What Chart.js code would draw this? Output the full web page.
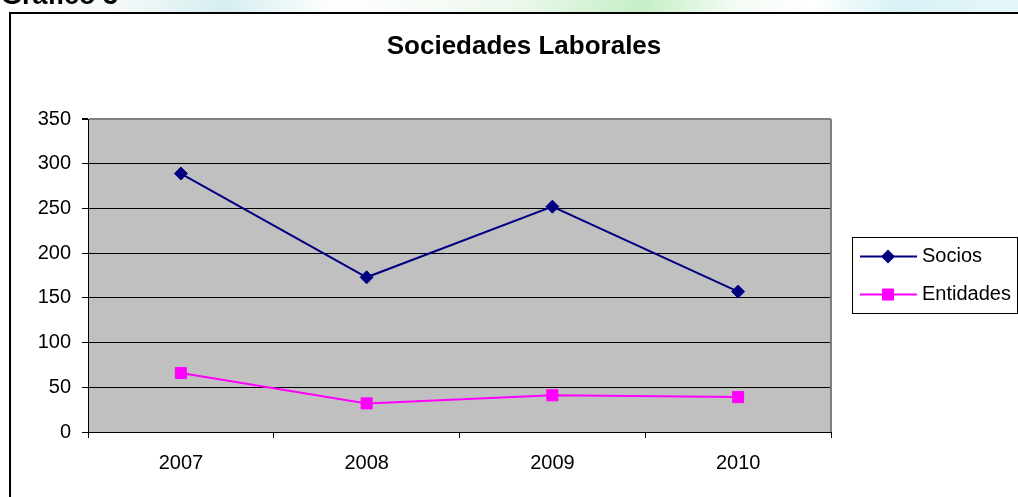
<!DOCTYPE html>
<html>
<head>
<meta charset="utf-8">
<title>Sociedades Laborales</title>
<script src="https://cdn.jsdelivr.net/npm/chart.js"></script>
<style>
  html, body { margin: 0; padding: 0; background: #fff; overflow: hidden; }
  #wrap { position: relative; width: 1018px; height: 497px; }
</style>
</head>
<body>
<div id="wrap"><canvas id="grafico"></canvas></div>
<script>
// datos
var anios = ["2007", "2008", "2009", "2010"];
var socios = [289, 173, 252, 157];
var entidades = [66, 32, 41, 39];
var ejeY = { min: 0, max: 350, paso: 50 };

var fuente = "'Liberation Sans', Arial, sans-serif";

// fondo, marco exterior, titulo y zona gris
var fondo = {
    id: "fondo",
    beforeDraw: function (chart) {
        var c = chart.ctx, a = chart.chartArea;
        c.save();
        // franja de arriba (marca de agua de la pagina)
        var g = c.createLinearGradient(0, 0, chart.width, 0);
        g.addColorStop(0, "#ffffff");
        g.addColorStop(0.12, "#f4f8f8");
        g.addColorStop(0.22, "#d6eef0");
        g.addColorStop(0.33, "#ffffff");
        g.addColorStop(0.5, "#eef8ee");
        g.addColorStop(0.63, "#c6efc6");
        g.addColorStop(0.72, "#f4fbf4");
        g.addColorStop(0.8, "#ffffff");
        g.addColorStop(0.88, "#d8f2f6");
        g.addColorStop(1, "#e6f6f8");
        c.fillStyle = g;
        c.fillRect(0, 0, chart.width, 12);
        c.fillStyle = "#000";
        c.font = "bold 27px " + fuente;
        c.textBaseline = "alphabetic";
        c.fillText("Gráfico 3", 1, 4);

        // marco del grafico
        c.strokeStyle = "#000";
        c.lineWidth = 2;
        c.strokeRect(10, 13, chart.width + 40, chart.height + 40);

        // titulo
        c.font = "bold 26px " + fuente;
        c.textAlign = "center";
        c.fillText("Sociedades Laborales", 524, 54);

        // area de trazado gris
        c.fillStyle = "#c0c0c0";
        c.fillRect(a.left, a.top, a.right - a.left, a.bottom - a.top);
        c.restore();
    },
    beforeDatasetsDraw: function (chart) {
        var c = chart.ctx, a = chart.chartArea;
        c.save();
        c.strokeStyle = "#808080";
        c.lineWidth = 2;
        c.beginPath();
        c.moveTo(a.right, a.top);
        c.lineTo(a.right, a.bottom);
        c.stroke();
        c.restore();
    }
};

// leyenda tipo Excel a la derecha
var leyenda = {
    id: "leyenda",
    afterDraw: function (chart) {
        var c = chart.ctx;
        c.save();
        c.fillStyle = "#fff";
        c.fillRect(852.5, 237.5, 165, 76);
        c.strokeStyle = "#000";
        c.lineWidth = 1;
        c.strokeRect(852.5, 237.5, 165, 76);
        var filas = [256.5, 294.5];
        chart.data.datasets.forEach(function (ds, i) {
            var y = filas[i];
            c.strokeStyle = ds.borderColor;
            c.lineWidth = 2;
            c.beginPath();
            c.moveTo(860, y);
            c.lineTo(917, y);
            c.stroke();
            c.fillStyle = ds.borderColor;
            c.beginPath();
            if (ds.pointStyle === "rectRot") {
                c.moveTo(888, y - 7);
                c.lineTo(895, y);
                c.lineTo(888, y + 7);
                c.lineTo(881, y);
            } else {
                c.rect(882, y - 6, 12, 12);
            }
            c.closePath();
            c.fill();
            c.fillStyle = "#000";
            c.font = "20px " + fuente;
            c.textBaseline = "middle";
            c.fillText(ds.label, 922, y);
        });
        c.restore();
    }
};

var ctx = document.getElementById("grafico");
var grafico = new Chart(ctx, {
    type: "line",
    data: {
        labels: anios,
        datasets: [{
                label: "Socios",
                data: socios,
                borderColor: "#000080",
                backgroundColor: "#000080",
                borderWidth: 2,
                pointStyle: "rectRot",
                pointRadius: 6.5,
                pointBorderWidth: 1,
                pointBackgroundColor: "#000080"
            },
            {
                label: "Entidades",
                data: entidades,
                borderColor: "#ff00ff",
                backgroundColor: "#ff00ff",
                borderWidth: 2,
                pointStyle: "rect",
                pointRadius: 7.8,
                pointBorderWidth: 1,
                pointBackgroundColor: "#ff00ff"
            }
        ]
    },
    options: {
        responsive: true,
        maintainAspectRatio: false,
        animation: false,
        layout: { padding: { top: 119, right: 187, left: 0, bottom: 0 } },
        plugins: {
            legend: { display: false },
            title: { display: false },
            tooltip: { enabled: false }
        },
        elements: { line: { tension: 0 } },
        scales: {
            x: {
                offset: true,
                grid: { offset: true, drawOnChartArea: false, drawTicks: true, tickLength: 6, tickColor: "#000" },
                border: { color: "#000", width: 1 },
                ticks: { color: "#000", font: { family: fuente, size: 20 }, padding: 13, maxRotation: 0 },
                afterFit: function (s) { s.height = 65; }
            },
            y: {
                min: ejeY.min,
                max: ejeY.max,
                grid: {
                    color: function (c) { return c.tick && c.tick.value === ejeY.max ? "#808080" : "#000"; },
                    lineWidth: function (c) { return c.tick && c.tick.value === ejeY.max ? 2 : 1; },
                    tickLength: 6,
                    tickColor: "#000"
                },
                border: { color: "#000", width: 1 },
                ticks: { stepSize: ejeY.paso, color: "#000", font: { family: fuente, size: 20 }, padding: 11 },
                afterFit: function (s) { s.width = 88; }
            }
        }
    },
    plugins: [fondo, leyenda]
});
</script>
</body>
</html>
